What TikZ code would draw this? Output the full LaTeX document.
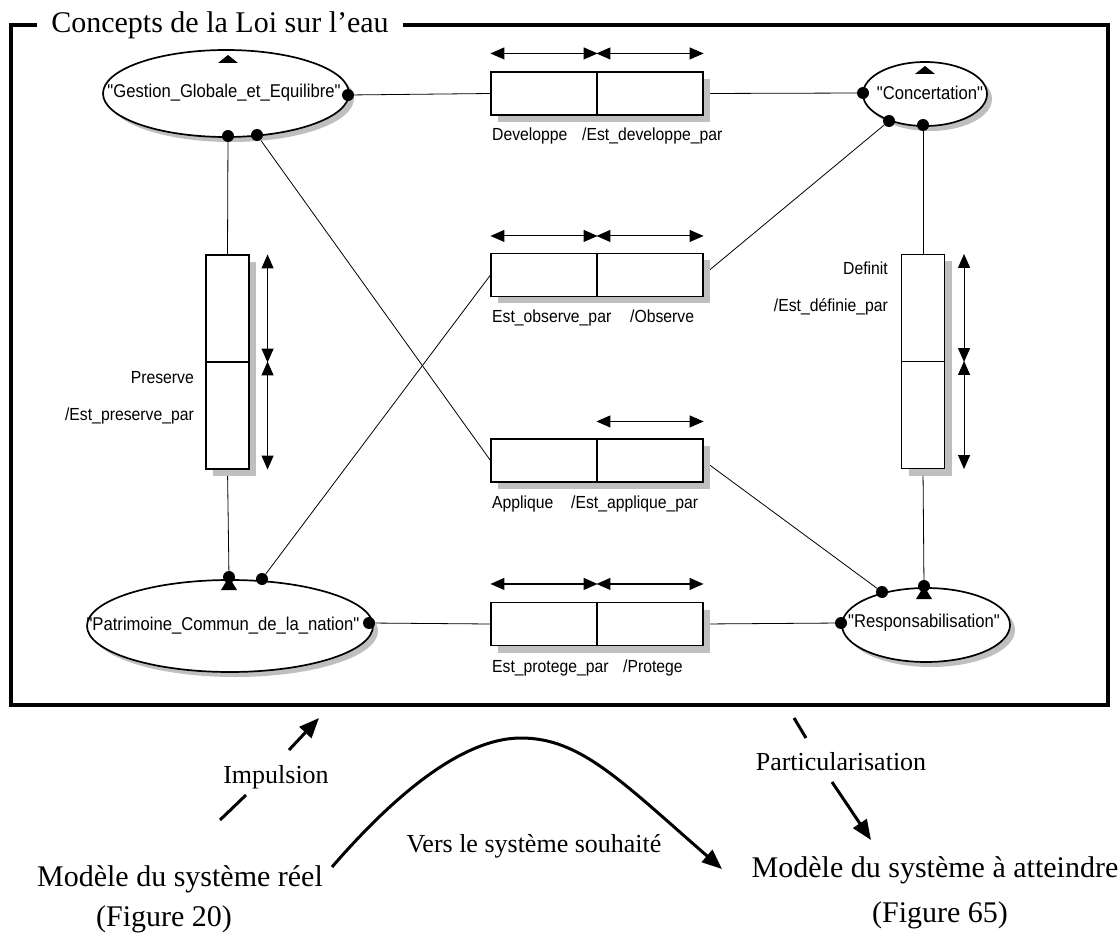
\documentclass[tikz,border=0pt]{standalone}
\usepackage{fontspec}
\newfontfamily\lab[FakeStretch=0.9,Ligatures=TeXOff]{Liberation Sans}
\newfontfamily\tms{Liberation Serif}
\usetikzlibrary{shapes.geometric,arrows.meta,shadows}
\pgfdeclarelayer{bg}
\pgfsetlayers{bg,main}
\begin{document}
\begin{tikzpicture}[x=1pt,y=-1pt,
  ell/.style={ellipse, draw, line width=1.7pt, fill=white, inner sep=0pt,
     drop shadow={shadow xshift=5pt, shadow yshift=-5pt, fill=gray!50, opacity=1}},
  rel/.style={rectangle, draw, line width=1.1pt, fill=white, inner sep=0pt,
     drop shadow={shadow xshift=7pt, shadow yshift=-7pt, fill=gray!50, opacity=1}},
  hrel/.style={rel, minimum width=106pt, minimum height=43pt},
  vrel/.style={rel, minimum width=43pt, minimum height=107pt},
  conn/.style={line width=0.8pt},
  dotn/.style={circle, fill=black, inner sep=0pt, minimum size=12pt},
  dbl/.style={{Triangle[length=14pt,width=12pt]}-{Triangle[length=14pt,width=12pt]}, line width=1.1pt},
  etxt/.style={font=\lab\fontsize{18.5}{22}\selectfont, inner sep=0pt},
  rtxt/.style={font=\lab\fontsize{17.5}{21}\selectfont, inner sep=0pt},
  bigtxt/.style={font=\tms\fontsize{30}{36}\selectfont, inner sep=0pt},
  midtxt/.style={font=\tms\fontsize{26}{31}\selectfont, inner sep=0pt},
  fatline/.style={line width=3pt},
  fatarrow/.style={line width=3pt, -{Triangle[length=20pt,width=16pt]}},
]
\begin{pgfonlayer}{bg}
\fill[white] (0,0) rectangle (1120,936);
\end{pgfonlayer}
\useasboundingbox (0,0) rectangle (1120,936);

% frame and title
\draw[line width=4.5pt] (11,25) rectangle (1108,705);
\node[bigtxt, fill=white, inner xsep=14pt, inner ysep=3pt, anchor=base] (title) at (220,33) {Concepts de la Loi sur l’eau};

% concept ellipses
\node[ell, minimum width=246pt, minimum height=87pt] (gest) at (226,93.5) {};
\node[etxt] (gestT) at (224,93) {"Gestion\_Globale\_et\_Equilibre"};
\node[ell, minimum width=124pt, minimum height=64pt] (conc) at (925,94) {};
\node[etxt] (concT) at (930,93) {"Concertation"};
\node[ell, minimum width=286pt, minimum height=92pt] (patr) at (230,626) {};
\node[etxt] (patrT) at (223,626) {"Patrimoine\_Commun\_de\_la\_nation"};
\node[ell, minimum width=168pt, minimum height=74pt] (resp) at (926,625) {};
\node[etxt] (respT) at (924,623) {"Responsabilisation"};

\fill (228,55) -- (238,63) -- (218,63) -- cycle;
\fill (925,66) -- (935,74) -- (915,74) -- cycle;

% relation boxes
\node[hrel] (devA) at (544,93.5) {};
\node[hrel] (devB) at (650,93.5) {};
\node[hrel] (obsA) at (544,275) {};
\node[hrel] (obsB) at (650,275) {};
\node[hrel] (appA) at (544,460.5) {};
\node[hrel] (appB) at (650,460.5) {};
\node[hrel] (proA) at (544,624) {};
\node[hrel] (proB) at (650,624) {};
\node[vrel] (preA) at (227.5,308.5) {};
\node[vrel] (preB) at (227.5,415.5) {};
\node[vrel] (defA) at (923,308) {};
\node[vrel] (defB) at (923,415) {};

% role arrows
\draw[dbl] ([yshift=18pt]devA.north west) -- ([yshift=18pt]devA.north east);
\draw[dbl] ([yshift=18pt]devB.north west) -- ([yshift=18pt]devB.north east);
\draw[dbl] ([yshift=17pt]obsA.north west) -- ([yshift=17pt]obsA.north east);
\draw[dbl] ([yshift=17pt]obsB.north west) -- ([yshift=17pt]obsB.north east);
\draw[dbl] ([yshift=17pt]appB.north west) -- ([yshift=17pt]appB.north east);
\draw[dbl] ([yshift=18pt]proA.north west) -- ([yshift=18pt]proA.north east);
\draw[dbl] ([yshift=18pt]proB.north west) -- ([yshift=18pt]proB.north east);
\draw[dbl] ([xshift=18pt]preA.north east) -- ([xshift=18pt]preA.south east);
\draw[dbl] ([xshift=18pt]preB.north east) -- ([xshift=18pt]preB.south east);
\draw[dbl] ([xshift=19pt]defA.north east) -- ([xshift=19pt]defA.south east);
\draw[dbl] ([xshift=19pt]defB.north east) -- ([xshift=19pt]defB.south east);

% relation labels
\node[rtxt, anchor=base west] (devL1) at (492,141) {Developpe};
\node[rtxt, anchor=base west] (devL2) at (582,141) {/Est\_developpe\_par};
\node[rtxt, anchor=base west] (obsL1) at (492,323) {Est\_observe\_par};
\node[rtxt, anchor=base west] (obsL2) at (630,323) {/Observe};
\node[rtxt, anchor=base west] (appL1) at (492,508) {Applique};
\node[rtxt, anchor=base west] (appL2) at (571,508) {/Est\_applique\_par};
\node[rtxt, anchor=base west] (proL1) at (492,672) {Est\_protege\_par};
\node[rtxt, anchor=base west] (proL2) at (623,672) {/Protege};
\node[rtxt, anchor=base east] (preL1) at (194,383) {Preserve};
\node[rtxt, anchor=base east] (preL2) at (194,420) {/Est\_preserve\_par};
\node[rtxt, anchor=base east] (defL1) at (888,275) {Definit};
\node[rtxt, anchor=base east] (defL2) at (888,312) {/Est\_définie\_par};

% link points
\node[dotn] (gR) at (348,95) {};
\node[dotn] (gB1) at (228,136) {};
\node[dotn] (gB2) at (257,135) {};
\node[dotn] (cL) at (863,93) {};
\node[dotn] (cB1) at (889,121) {};
\node[dotn] (cB2) at (923,125) {};
\node[dotn] (pT1) at (229,577) {};
\node[dotn] (pT2) at (262,579) {};
\node[dotn] (pR) at (369,623) {};
\node[dotn] (rL) at (841,623) {};
\node[dotn] (rT1) at (882,592) {};
\node[dotn] (rT2) at (924,586) {};
\fill (pT1.center) -- ++(8,13) -- ++(-16,0) -- cycle;
\fill (rT2.center) -- ++(8,13) -- ++(-16,0) -- cycle;

% connectors
\begin{pgfonlayer}{bg}
\draw[conn] (gR) -- (devA.west);
\draw[conn] (devB.east) -- (cL);
\draw[conn] (gB1) -- (preA.north);
\draw[conn] (preB.south) -- (pT1);
\draw[conn] (gB2) -- (appA.west);
\draw[conn] (pT2) -- (obsA.west);
\draw[conn] (obsB.east) -- (cB1);
\draw[conn] (cB2) -- (defA.north);
\draw[conn] (defB.south) -- (rT2);
\draw[conn] (appB.east) -- (rT1);
\draw[conn] (pR) -- (proA.west);
\draw[conn] (proB.east) -- (rL);
\end{pgfonlayer}

% bottom part
\node[bigtxt, anchor=base] (reel) at (180,886) {Modèle du système réel};
\node[bigtxt, anchor=base] (fig20) at (164,926) {(Figure 20)};
\node[bigtxt, anchor=base] (atteindre) at (935,877) {Modèle du système à atteindre};
\node[bigtxt, anchor=base] (fig65) at (940,922) {(Figure 65)};
\node[midtxt, anchor=base] (impuls) at (276,783) {Impulsion};
\node[midtxt, anchor=base] (vers) at (534,852) {Vers le système souhaité};
\node[midtxt, anchor=base] (partic) at (841,770) {Particularisation};

\coordinate (i1) at (220,820);
\coordinate (i2) at (246,795);
\coordinate (i3) at (289,750);
\coordinate (i4) at (319,718);
\draw[fatline] (i1) -- (i2);
\draw[fatarrow] (i3) -- (i4);

\coordinate (p1) at (794,718);
\coordinate (p2) at (806,738);
\coordinate (p3) at (832,782);
\coordinate (p4) at (871,840);
\draw[fatline] (p1) -- (p2);
\draw[fatarrow] (p3) -- (p4);

\coordinate (v0) at (332,867);
\coordinate (vtop) at (521,738);
\coordinate (v1) at (722,869);
\draw[fatarrow] (v0) .. controls (390,800) and (460,738) .. (vtop)
  .. controls (580,738) and (620,780) .. (v1);
\end{tikzpicture}
\end{document}
